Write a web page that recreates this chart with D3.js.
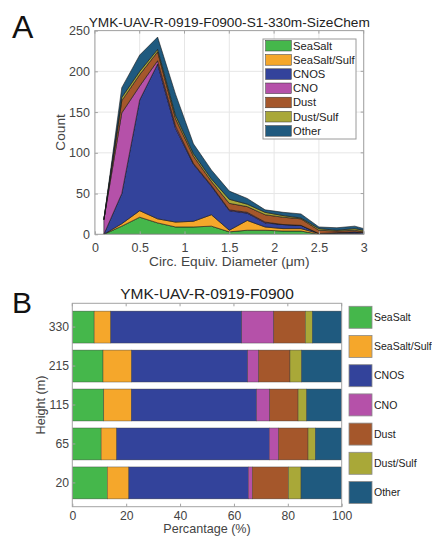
<!DOCTYPE html>
<html>
<head>
<meta charset="utf-8">
<script src="https://cdn.jsdelivr.net/npm/d3@7"></script>
<style>
  html, body { margin: 0; padding: 0; background: #fff; }
  svg { display: block; font-family: "Liberation Sans", Arial, Helvetica, sans-serif; }
</style>
</head>
<body>
<svg id="chart" width="432" height="538"></svg>
<script>
// Particle classes and their fill colours
const classes = ["SeaSalt", "SeaSalt/Sulf", "CNOS", "CNO", "Dust", "Dust/Sulf", "Other"];
const palette = ["#45b74b", "#f5a72b", "#33439b", "#b551a9", "#a5572b", "#a9a838", "#1f5a7f"];

// Panel A: particle counts per size bin (bin centres, µm), 330 m sample
const diameters      = [0.1, 0.3, 0.5, 0.7, 0.9, 1.1, 1.3, 1.5, 1.7, 1.9, 2.1, 2.3, 2.5, 2.7, 2.9, 3.1];
const seaSaltCount   = [0, 10, 21, 14,   9,  9, 10,  3,  5, 5, 4, 4, 0, 0, 0, 0];
const seaSaltSulfCnt = [0,  3,  8,  5,   6,  7, 14,  2, 12, 4, 3, 3, 1, 1, 1, 0];
const cnosCount      = [0, 37, 136, 190, 115, 70, 35, 24, 9, 5, 5, 4, 0, 1, 2, 1];
const cnoCount       = [18, 99, 17, 4,   3,  1,  1,  1,  1, 1, 0, 0, 0, 0, 0, 0];
const dustCount      = [0, 15, 14, 11,   9,  9,  5,  8,  7, 9, 9, 8, 4, 2, 2, 1];
const dustSulfCount  = [0,  4,  4,  3,   4,  3,  3,  5,  3, 3, 2, 1, 2, 1, 2, 1];
const otherCount     = [0, 12, 20, 15,  26, 12, 11, 10,  7, 3, 4, 5, 2, 3, 3, 1];
const countTicks     = [0, 50, 100, 150, 200, 250];
const diameterTicks  = [0, 0.5, 1, 1.5, 2, 2.5, 3];

// Panel B: class fractions (%) by sampling height
const heights        = ["330", "215", "115", "65", "20"];
const seaSaltPct     = [8.1, 11.4, 11.7, 10.7, 13.0];
const seaSaltSulfPct = [6.2, 10.6, 10.2, 5.8, 8.0];
const cnosPct        = [48.6, 43.1, 46.5, 56.6, 44.3];
const cnoPct         = [11.9, 4.1, 4.9, 3.5, 1.5];
const dustPct        = [11.7, 11.6, 10.5, 10.9, 13.4];
const dustSulfPct    = [2.6, 4.3, 3.2, 2.7, 4.7];
const otherPct       = [10.9, 14.9, 13.0, 9.8, 15.1];
const pctTicks       = [0, 20, 40, 60, 80, 100];

const countSeries = [seaSaltCount, seaSaltSulfCnt, cnosCount, cnoCount, dustCount, dustSulfCount, otherCount];
const pctSeries   = [seaSaltPct, seaSaltSulfPct, cnosPct, cnoPct, dustPct, dustSulfPct, otherPct];

const svg = d3.select("#chart");
const color = d3.scaleOrdinal(classes, palette);
const frameColor = "#a3a3a3";
const labelColor = "#444";

// ---------------- Panel A: stacked area ----------------
const A = { left: 94.9, right: 363.7, top: 30.6, bottom: 234.3 };
const xA = d3.scaleLinear().domain([0, 3]).range([A.left, A.right]);
const yA = d3.scaleLinear().domain([0, 250]).range([A.bottom, A.top]);

const rowsA = diameters.map((d, i) => {
  const r = { d };
  classes.forEach((c, k) => r[c] = countSeries[k][i]);
  return r;
});
const stackA = d3.stack().keys(classes)(rowsA);

svg.append("clipPath").attr("id", "clipA")
  .append("rect").attr("x", A.left).attr("y", A.top)
  .attr("width", A.right - A.left).attr("height", A.bottom - A.top);

// grid
const gA = svg.append("g");
gA.selectAll(".gx").data(diameterTicks).join("line")
  .attr("x1", d => xA(d)).attr("x2", d => xA(d))
  .attr("y1", A.top).attr("y2", A.bottom)
  .attr("stroke", "#e6e6e6").attr("stroke-width", 1);
gA.selectAll(".gy").data(countTicks).join("line")
  .attr("x1", A.left).attr("x2", A.right)
  .attr("y1", d => yA(d)).attr("y2", d => yA(d))
  .attr("stroke", "#e6e6e6").attr("stroke-width", 1);

const area = d3.area()
  .x(d => xA(d.data.d))
  .y0(d => yA(d[0]))
  .y1(d => yA(d[1]));

svg.append("g").attr("clip-path", "url(#clipA)")
  .selectAll("path").data(stackA).join("path")
  .attr("d", area)
  .attr("fill", d => color(d.key))
  .attr("stroke", "#1a1a1a").attr("stroke-width", 0.6)
  .attr("stroke-linejoin", "round");

// axes
const axA_x = svg.append("g").attr("transform", `translate(0,${A.bottom})`)
  .call(d3.axisBottom(xA).tickValues(diameterTicks).tickFormat(d3.format("~g"))
    .tickSize(-3).tickPadding(8.5));
const axA_y = svg.append("g").attr("transform", `translate(${A.left},0)`)
  .call(d3.axisLeft(yA).tickValues(countTicks).tickSize(-3).tickPadding(5));
[axA_x, axA_y].forEach(g => {
  g.select(".domain").remove();
  g.selectAll(".tick line").attr("stroke", frameColor);
  g.selectAll("text").attr("font-size", 12.5).attr("fill", labelColor)
    .attr("font-family", "Liberation Sans, Arial, sans-serif");
});
// ticks on opposite sides of the box
svg.append("g").selectAll("line").data(diameterTicks).join("line")
  .attr("x1", d => xA(d)).attr("x2", d => xA(d))
  .attr("y1", A.top).attr("y2", A.top + 3).attr("stroke", frameColor);
svg.append("g").selectAll("line").data(countTicks).join("line")
  .attr("x1", A.right).attr("x2", A.right - 3)
  .attr("y1", d => yA(d)).attr("y2", d => yA(d)).attr("stroke", frameColor);
svg.append("rect")
  .attr("x", A.left).attr("y", A.top)
  .attr("width", A.right - A.left).attr("height", A.bottom - A.top)
  .attr("fill", "none").attr("stroke", frameColor).attr("stroke-width", 1);

svg.append("text").attr("x", (A.left + A.right) / 2).attr("y", 26.8)
  .attr("text-anchor", "middle").attr("font-size", 13.7).attr("fill", "#222")
  .text("YMK-UAV-R-0919-F0900-S1-330m-SizeChem");
svg.append("text").attr("x", (A.left + A.right) / 2).attr("y", 266)
  .attr("text-anchor", "middle").attr("font-size", 13.7).attr("fill", labelColor)
  .text("Circ. Equiv. Diameter (\u03bcm)");
svg.append("text")
  .attr("transform", `translate(65,${(A.top + A.bottom) / 2}) rotate(-90)`)
  .attr("text-anchor", "middle").attr("font-size", 13.7).attr("fill", labelColor)
  .text("Count");
svg.append("text").attr("x", 12).attr("y", 38)
  .attr("font-size", 32).attr("fill", "#111").text("A");

// legend A
const legA = svg.append("g");
legA.append("rect").attr("x", 263).attr("y", 39).attr("width", 93).attr("height", 100)
  .attr("fill", "#fff").attr("stroke", "#9a9a9a").attr("stroke-width", 1);
const legARows = legA.selectAll("g.row").data(classes).join("g")
  .attr("transform", (d, i) => `translate(0,${45.7 + i * 14.2})`);
legARows.append("rect").attr("x", 265.7).attr("y", -5.3).attr("width", 25.6).attr("height", 10.6)
  .attr("fill", d => color(d)).attr("stroke", "#333").attr("stroke-width", 0.5);
legARows.append("text").attr("x", 293).attr("y", 0).attr("dy", "0.35em")
  .attr("font-size", 11.2).attr("fill", "#222").text(d => d);

// ---------------- Panel B: stacked horizontal bars ----------------
const B = { left: 72.3, right: 341.7, top: 303.3, bottom: 506.7 };
const xB = d3.scaleLinear().domain([0, 100]).range([B.left, B.right]);
const yB = d3.scaleBand().domain(heights).range([B.top, B.bottom])
  .paddingInner(0.18).paddingOuter(0.2);

const rowsB = heights.map((h, i) => {
  const r = { h };
  classes.forEach((c, k) => r[c] = pctSeries[k][i]);
  return r;
});
const stackB = d3.stack().keys(classes)(rowsB);

svg.append("g").selectAll("g").data(stackB).join("g")
  .attr("fill", d => color(d.key))
  .selectAll("rect").data(d => d).join("rect")
  .attr("x", d => xB(d[0]))
  .attr("width", d => xB(d[1]) - xB(d[0]))
  .attr("y", d => yB(d.data.h))
  .attr("height", yB.bandwidth())
  .attr("stroke", "#3a3a3a").attr("stroke-width", 0.4);

const axB_x = svg.append("g").attr("transform", `translate(0,${B.bottom})`)
  .call(d3.axisBottom(xB).tickValues(pctTicks).tickSize(-3).tickPadding(4.8));
const axB_y = svg.append("g").attr("transform", `translate(${B.left},0)`)
  .call(d3.axisLeft(yB).tickSize(-3).tickPadding(3.3));
[axB_x, axB_y].forEach(g => {
  g.select(".domain").remove();
  g.selectAll(".tick line").attr("stroke", frameColor);
  g.selectAll("text").attr("font-size", 12.2).attr("fill", labelColor)
    .attr("font-family", "Liberation Sans, Arial, sans-serif");
});
svg.append("g").selectAll("line").data(pctTicks).join("line")
  .attr("x1", d => xB(d)).attr("x2", d => xB(d))
  .attr("y1", B.top).attr("y2", B.top + 3).attr("stroke", frameColor);
svg.append("rect")
  .attr("x", B.left).attr("y", B.top)
  .attr("width", B.right - B.left).attr("height", B.bottom - B.top)
  .attr("fill", "none").attr("stroke", frameColor).attr("stroke-width", 1);

svg.append("text").attr("x", (B.left + B.right) / 2).attr("y", 299.3)
  .attr("text-anchor", "middle").attr("font-size", 15.5).attr("fill", "#222")
  .text("YMK-UAV-R-0919-F0900");
svg.append("text").attr("x", (B.left + B.right) / 2).attr("y", 533)
  .attr("text-anchor", "middle").attr("font-size", 12.6).attr("fill", labelColor)
  .text("Percantage (%)");
svg.append("text")
  .attr("transform", `translate(45,${(B.top + B.bottom) / 2}) rotate(-90)`)
  .attr("text-anchor", "middle").attr("font-size", 12.6).attr("fill", labelColor)
  .text("Height (m)");
svg.append("text").attr("x", 12).attr("y", 313)
  .attr("font-size", 30).attr("fill", "#111").text("B");

// legend B
const legBRows = svg.append("g").selectAll("g").data(classes).join("g")
  .attr("transform", (d, i) => `translate(0,${317.3 + i * 29.2})`);
legBRows.append("rect").attr("x", 349).attr("y", -11).attr("width", 23).attr("height", 22)
  .attr("fill", d => color(d)).attr("stroke", "#8a8a8a").attr("stroke-width", 0.8);
legBRows.append("text").attr("x", 374).attr("y", 0).attr("dy", "0.35em")
  .attr("font-size", 10.5).attr("fill", "#222").text(d => d);
</script>
</body>
</html>
